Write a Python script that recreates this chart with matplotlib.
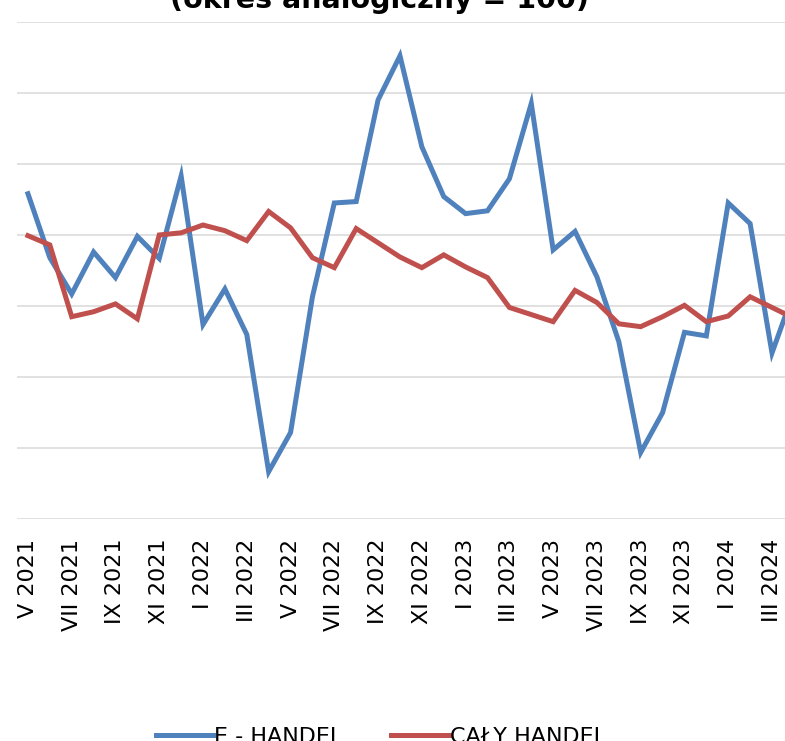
"""E-handel vs cały handel, indeks r/r (okres analogiczny = 100)"""
import matplotlib
matplotlib.use("Agg")
import matplotlib.pyplot as plt

months = ["V", "VI", "VII", "VIII", "IX", "X", "XI", "XII",
          "I", "II", "III", "IV", "V", "VI", "VII", "VIII", "IX", "X", "XI", "XII",
          "I", "II", "III", "IV", "V", "VI", "VII", "VIII", "IX", "X", "XI", "XII",
          "I", "II", "III", "IV"]
years = [2021] * 8 + [2022] * 12 + [2023] * 12 + [2024] * 4
labels = [f"{m} {y}" for m, y in zip(months, years)]

e_handel = [115.8, 106.8, 101.7, 107.6, 104.0, 109.8, 106.7, 118.3,
            97.4, 102.4, 96.0, 76.7, 82.2, 101.3, 114.5, 114.7, 129.0, 135.2, 122.4, 115.4,
            113.0, 113.4, 117.9, 128.5, 107.9, 110.5, 104.1, 95.0, 79.4, 85.0, 96.3, 95.8,
            114.5, 111.6, 93.4, 102.0]
caly_handel = [109.9, 108.6, 98.5, 99.2, 100.3, 98.2, 110.0, 110.3,
               111.4, 110.6, 109.2, 113.3, 111.0, 106.8, 105.4, 110.9, 108.9, 106.9, 105.4, 107.2,
               105.5, 104.0, 99.8, 98.8, 97.8, 102.2, 100.5, 97.5, 97.1, 98.5, 100.1, 97.8,
               98.6, 101.3, 99.8, 98.3]

fig = plt.figure(figsize=(7.85, 7.41), dpi=100)
ax = fig.add_axes([17 / 785, 0.2992, 1.0036, 0.6715])

x = list(range(len(labels)))
ax.plot(x, e_handel, color="#4F81BD", lw=3.6, solid_joinstyle="miter", label="E - HANDEL")
ax.plot(x, caly_handel, color="#C0504D", lw=3.6, solid_joinstyle="miter", label="CAŁY HANDEL")

ax.set_xlim(-0.5, len(labels) - 0.5)
ax.set_ylim(70, 140)
ax.set_yticks(range(70, 141, 10))
ax.yaxis.grid(True, color="#D9D9D9", lw=1.1)
ax.set_axisbelow(True)
ax.tick_params(axis="y", left=False, labelleft=False)
ax.set_xticks(x[::2])
ax.set_xticklabels(labels[::2], rotation=90, fontsize=16, va="top", ha="center")
ax.tick_params(axis="x", length=0, pad=14)
for sp in ax.spines.values():
    sp.set_visible(False)

fig.text(380 / 785, 1 - 8.3 / 741, "(okres analogiczny = 100)", ha="center", va="baseline",
         fontsize=20.5, fontweight="bold")

fig.legend(loc="upper left", bbox_to_anchor=(145 / 785, 1 - 716 / 741), ncol=2, frameon=False,
           fontsize=16, handlelength=2.57, handletextpad=0.05, columnspacing=2.2, borderpad=0)

plt.savefig("out.png", dpi=100)
plt.close()
